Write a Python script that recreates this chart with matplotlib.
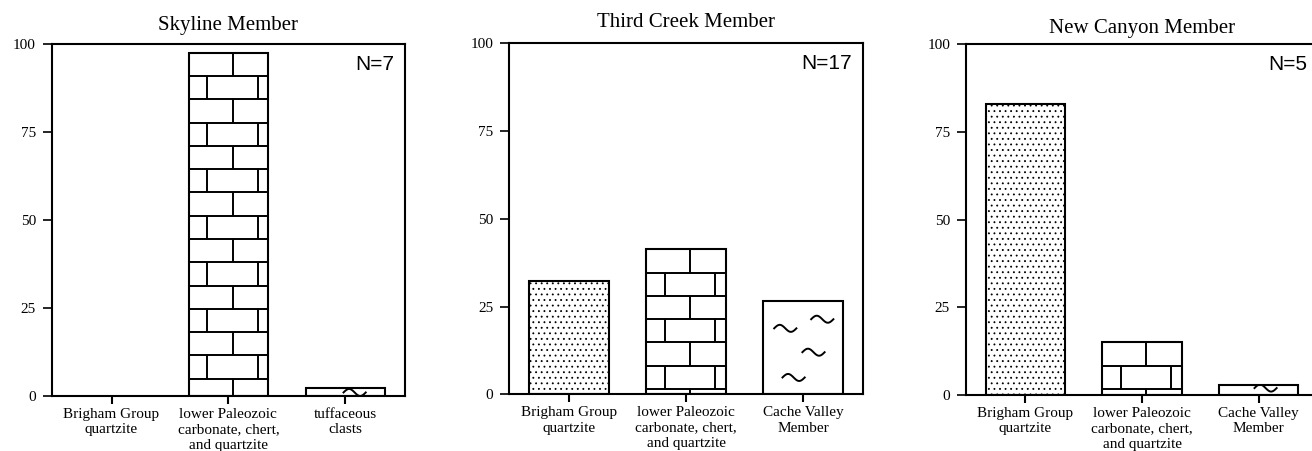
import numpy as np
import matplotlib
matplotlib.use("Agg")
import matplotlib.pyplot as plt

# --- data ---
titles = ["Skyline Member", "Third Creek Member", "New Canyon Member"]
sample_counts = [7, 17, 5]

skyline_labels = ["Brigham Group\nquartzite",
                  "lower Paleozoic\ncarbonate, chert,\nand quartzite",
                  "tuffaceous\nclasts"]
third_creek_labels = ["Brigham Group\nquartzite",
                      "lower Paleozoic\ncarbonate, chert,\nand quartzite",
                      "Cache Valley\nMember"]
new_canyon_labels = ["Brigham Group\nquartzite",
                     "lower Paleozoic\ncarbonate, chert,\nand quartzite",
                     "Cache Valley\nMember"]

skyline_values = [0.0, 97.6, 2.4]
third_creek_values = [32.2, 41.3, 26.7]
new_canyon_values = [83.0, 15.0, 3.0]

# lithology fill for each bar position
patterns = ["dots", "brick", "wavy"]

# wavy-symbol positions inside the "wavy" bar (x offset from bar centre, y centre)
skyline_waves = [(0.08, 1.0)]
third_creek_waves = [(-0.152, 18.8), (0.164, 21.4), (0.089, 12.0), (-0.081, 4.8)]
new_canyon_waves = [(0.06, 2.0)]

yticks = [0, 25, 50, 75, 100]

plt.rcParams["hatch.linewidth"] = 0.6
plt.rcParams["hatch.color"] = "#1a1a1a"
SERIF = ["Liberation Serif", "DejaVu Serif"]
SANS = ["Liberation Sans", "DejaVu Sans"]

BAR_W = 0.68
ROW_H = 6.62      # brick course height (data units)
EDGE_LW = 1.5


def draw_bricks(ax, xc, h):
    n_rows = int(np.ceil(h / ROW_H))
    for k in range(n_rows):
        y_top = h - k * ROW_H
        y_bot = max(h - (k + 1) * ROW_H, 0.0)
        if y_bot > 0:
            ax.hlines(y_bot, xc - BAR_W / 2, xc + BAR_W / 2, color="black", lw=1.4, zorder=3)
        if k % 2 == 0:
            joints = [xc + 0.035]
        else:
            joints = [xc + 0.035 - 0.215, xc + 0.035 + 0.215]
        ax.vlines(joints, y_bot, y_top, color="black", lw=1.4, zorder=3)


def draw_waves(ax, bar, xc, waves):
    t = np.linspace(0, 1, 60)
    for dx, yc in waves:
        x = xc + dx + (t - 0.5) * 0.19
        y = yc + 1.0 * np.sin(2 * np.pi * t)
        line, = ax.plot(x, y, color="black", lw=1.4, zorder=3)
        line.set_clip_path(bar)


fig = plt.figure(figsize=(13.12, 4.51), dpi=100)
axes_rects = [
    [0.0396, 0.122, 0.269, 0.780],
    [0.3882, 0.1257, 0.2694, 0.778],
    [0.7363, 0.124, 0.2683, 0.7776],
]
panels = [
    (skyline_labels, skyline_values, skyline_waves),
    (third_creek_labels, third_creek_values, third_creek_waves),
    (new_canyon_labels, new_canyon_values, new_canyon_waves),
]
title_pads = [10.5, 11.5, 8.5]

for i, (labels, values, waves) in enumerate(panels):
    ax = fig.add_axes(axes_rects[i])
    x = np.arange(len(labels))
    bars = ax.bar(x, values, width=BAR_W, color="white", edgecolor="black",
                  linewidth=EDGE_LW, zorder=2)
    for xc, h, bar, pat in zip(x, values, bars, patterns):
        if h <= 0:
            bar.set_visible(False)
            continue
        if pat == "dots":
            bar.set_hatch("...")
        elif pat == "brick":
            draw_bricks(ax, xc, h)
        elif pat == "wavy":
            draw_waves(ax, bar, xc, waves)

    ax.set_xlim(-0.51, 2.51)
    ax.set_ylim(0, 100)
    ax.set_yticks(yticks)
    ax.set_yticklabels([str(v) for v in yticks], family=SERIF, fontsize=11)
    ax.set_xticks(x)
    ax.set_xticklabels(labels, family=SERIF, fontsize=11, linespacing=1.25)
    ax.tick_params(axis="y", direction="out", length=6.5, width=1.2, pad=5)
    ax.tick_params(axis="x", direction="out", length=5.5, width=1.5, pad=3)
    for sp in ax.spines.values():
        sp.set_linewidth(EDGE_LW)

    ax.set_title(titles[i], family=SERIF, fontsize=15, pad=title_pads[i])
    # keep N= label at the same pixel offset from the right spine
    w_px = axes_rects[i][2] * 1312
    h_px = axes_rects[i][3] * 451
    ax.text(1 - 11 / w_px, 1 - 11 / h_px, f"N={sample_counts[i]}",
            transform=ax.transAxes, ha="right", va="top",
            family=SANS, fontsize=15)

fig.savefig("out.png", dpi=100)
